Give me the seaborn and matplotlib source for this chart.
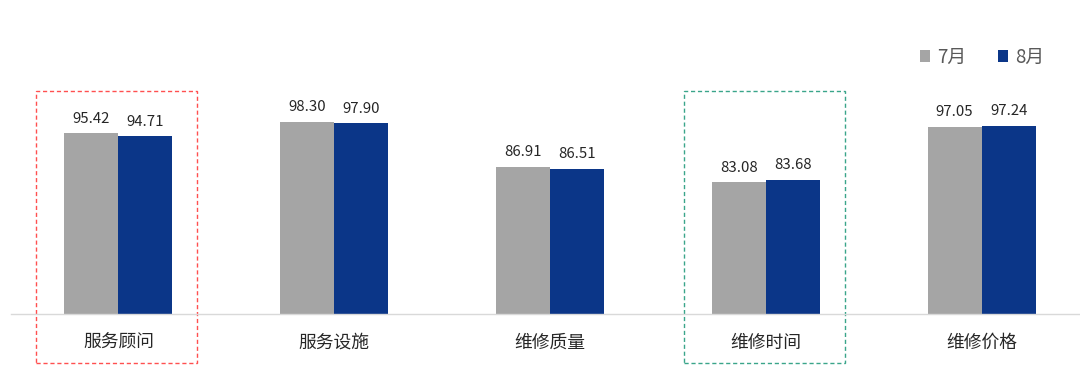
import matplotlib
matplotlib.use("Agg")
import matplotlib.pyplot as plt
import seaborn as sns
import pandas as pd
from matplotlib.patches import Rectangle, Patch

categories = ["服务顾问", "服务设施", "维修质量", "维修时间", "维修价格"]
series_names = ["7月", "8月"]
jul_values = [95.42, 98.30, 86.91, 83.08, 97.05]
aug_values = [94.71, 97.90, 86.51, 83.68, 97.24]

sns.set_theme(style="white")
plt.rcParams['font.family'] = ['Noto Sans CJK SC', 'DejaVu Sans']

df = pd.DataFrame({
    "类别": categories * 2,
    "月份": [series_names[0]] * len(categories) + [series_names[1]] * len(categories),
    "得分": jul_values + aug_values,
})

W, H = 1080, 386
fig = plt.figure(figsize=(W / 100, H / 100), dpi=100)
ax_left, ax_right = 10.5, 1089.5
ax_bottom, ax_top = 313.5, 75.5
ax = fig.add_axes([ax_left / W, 1 - ax_bottom / H, (ax_right - ax_left) / W, (ax_bottom - ax_top) / H])

palette = {"7月": "#A5A5A5", "8月": "#0B3688"}
sns.barplot(data=df, x="类别", y="得分", hue="月份", palette=palette, width=0.5,
            gap=0, ax=ax, legend=False, saturation=1, edgecolor="none")

ax.set_ylim(50, 110)
ax.set_xlim(-0.5, 4.5)
for c in ax.containers:
    ax.bar_label(c, fmt="%.2f", padding=5.5, fontsize=10.8, color="#262626")

for s in ["top", "right", "left"]:
    ax.spines[s].set_visible(False)
ax.spines["bottom"].set_color("#d9d9d9")
ax.spines["bottom"].set_linewidth(1)
ax.set_yticks([])
ax.set_xlabel("")
ax.set_ylabel("")
ax.tick_params(axis="x", which="major", length=0, pad=14.5, labelsize=12.8, labelcolor="#262626")
ax.set_xticks([i - 0.5 for i in range(len(categories) + 1)], minor=True)
ax.tick_params(axis="x", which="minor", length=4, color="#d9d9d9", width=1)

# Highlight boxes
ax.add_patch(Rectangle((-0.38, 37.5), 0.745, 68.5, fill=False, edgecolor="#ff5050",
                       linestyle=(0, (3, 2)), linewidth=1, clip_on=False))
ax.add_patch(Rectangle((3 - 0.38, 37.5), 0.745, 68.5, fill=False, edgecolor="#3aa58a",
                       linestyle=(0, (3, 2)), linewidth=1, clip_on=False))

# Legend
handles = [Patch(facecolor=palette[n], edgecolor="none", label=n) for n in series_names]
leg = fig.legend(handles=handles, loc="center", bbox_to_anchor=(982 / W, 1 - 57 / H),
                 ncol=2, frameon=False, fontsize=13.5, handlelength=0.55, handleheight=0.55,
                 handletextpad=0.35, columnspacing=1.7, borderpad=0, borderaxespad=0)
for t in leg.get_texts():
    t.set_color("#595959")

fig.savefig("out.png", dpi=100)
